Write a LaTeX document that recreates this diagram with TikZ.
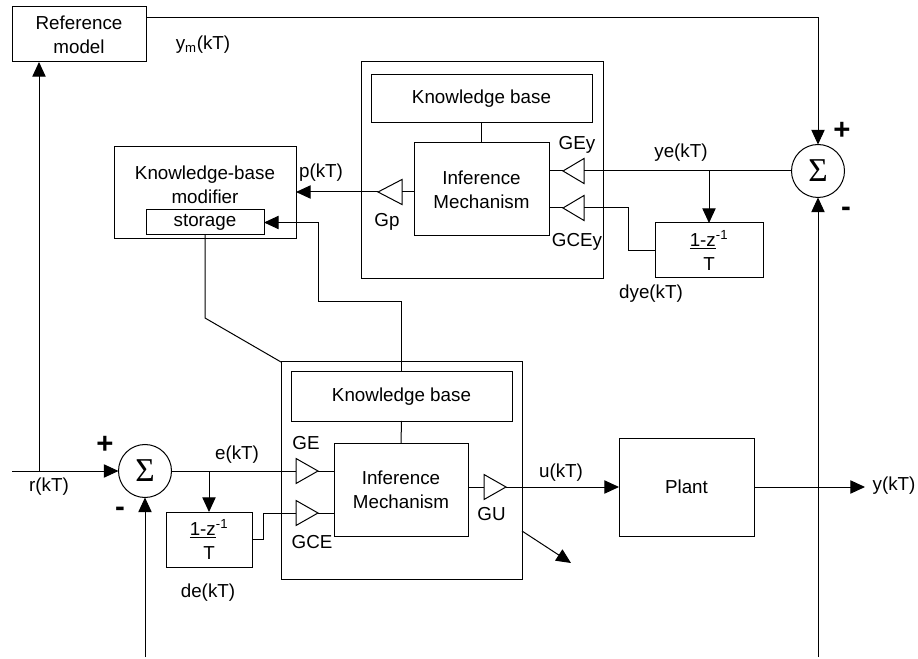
\documentclass[tikz,border=0pt]{standalone}
\usepackage{fontspec}
\setmainfont{Liberation Sans}
\newfontfamily\sigmafont{Liberation Serif}
\usetikzlibrary{arrows.meta}

\tikzset{every picture/.style={line width=0.75pt}}
\tikzset{
  block/.style={draw, rectangle, inner sep=0pt, outer sep=0pt, align=center},
  sumnode/.style={draw, circle, inner sep=0pt, outer sep=0pt, minimum size=39.75pt,
    font=\fontsize{25}{25}\selectfont\sigmafont},
  arr/.style={-{Triangle[length=11pt,width=10pt]}},
  sign/.style={font=\fontsize{22}{22}\selectfont\bfseries, inner sep=0pt},
  lbl/.style={inner sep=0pt},
}

\begin{document}
\begin{tikzpicture}[x=0.75pt,y=0.75pt,yscale=-1,xscale=1,font=\fontsize{14.1}{18}\selectfont]
\path[use as bounding box] (0,0) rectangle (918,659);

% Blocks
\node[block, minimum width=100.5pt, minimum height=41.25pt] (refmodel) at (79,34.5) {Reference\\model};
\node[block, minimum width=136.5pt, minimum height=69pt] (kbmod) at (205,193) {};
\node[lbl, align=center] (kbmodtxt) at (205,185) {Knowledge-base\\modifier};
\node[block, minimum width=88.5pt, minimum height=18.75pt] (storage) at (205,222.5) {storage};

% top fuzzy controller
\node[block, minimum width=181.5pt, minimum height=162.75pt] (fuzzy1) at (482,170.5) {};
\node[block, minimum width=165.75pt, minimum height=36pt] (kb1) at (481.5,99) {Knowledge base};
\node[block, minimum width=101.25pt, minimum height=69.75pt] (inf1) at (481.5,189.5) {Inference\\Mechanism};
\node[block, minimum width=81pt, minimum height=41.25pt] (diff2) at (709,250.5) {\underline{1-z}\textsuperscript{-1}\\T};
\node[sumnode] (sum2) at (818,171) {Σ};

% bottom fuzzy controller
\node[block, minimum width=180.75pt, minimum height=162.75pt] (fuzzy2) at (401.5,470.5) {};
\node[block, minimum width=165.75pt, minimum height=36.75pt] (kb2) at (401.5,396.5) {Knowledge base};
\node[block, minimum width=100.5pt, minimum height=69.75pt] (inf2) at (401,489.5) {Inference\\Mechanism};
\node[block, minimum width=64.5pt, minimum height=41.25pt] (diff1) at (209,539.5) {\underline{1-z}\textsuperscript{-1}\\T};
\node[sumnode] (sum1) at (145,471) {Σ};
\node[block, minimum width=101.25pt, minimum height=73.5pt] (plant) at (686.5,487) {Plant};

% gains
\coordinate (gey) at (584,171);   \coordinate (geytip) at (563,171);
\coordinate (gcey) at (584,208);  \coordinate (gceytip) at (563,208);
\coordinate (gp) at (402,192);    \coordinate (gptip) at (378,192);
\coordinate (ge) at (296,471);    \coordinate (getip) at (318,471);
\coordinate (gce) at (296,513);   \coordinate (gcetip) at (318,513);
\coordinate (gu) at (484,487);    \coordinate (gutip) at (506,487);
\draw (gey) ++(0,-12.5) -- (geytip) -- ++(21,12.5) -- cycle;
\draw (gcey) ++(0,-12.5) -- (gceytip) -- ++(21,12.5) -- cycle;
\draw (gp) ++(0,-12.5) -- (gptip) -- ++(24,12.5) -- cycle;
\draw (ge) ++(0,-12.5) -- (getip) -- ++(-22,12.5) -- cycle;
\draw (gce) ++(0,-12.5) -- (gcetip) -- ++(-22,12.5) -- cycle;
\draw (gu) ++(0,-12.5) -- (gutip) -- ++(-22,12.5) -- cycle;

% Connectors
\coordinate (rin) at (12,471);
\coordinate (rbranch) at (39,471);
\coordinate (ymout) at (146,18);
\coordinate (sum1in) at (145,657);
\coordinate (sum2in) at (818,657);
\coordinate (yebranch) at (709,171);
\coordinate (ebranch) at (209,471);
\coordinate (yout) at (865,487);
\coordinate (adapt) at (571,563);

\draw[arr] (rin) -- (sum1.west);
\draw[arr] (rbranch) -- (refmodel.south -| rbranch);
\draw[arr] (ymout) -| (sum2.north);
\draw[arr] (sum2in) -- (sum2.south);
\draw[arr] (sum1in) -- (sum1.south);

\draw (kb1.south) -- (inf1.north);
\draw (sum2.west) -- (gey);
\draw[arr] (yebranch) -- (diff2.north);
\draw (diff2.west) -| (628,208) -- (gcey);
\draw (inf1.east |- geytip) -- (geytip);
\draw (inf1.east |- gceytip) -- (gceytip);
\draw (inf1.west |- gp) -- (gp);
\draw[arr] (gptip) -- (kbmod.east |- gptip);

\draw[arr] (kb2.north) -- (401.5,302) -| (318,222.5) -- (storage.east);
\draw (storage.south) -- (205,318) -- (fuzzy2.north west);

\draw (kb2.south) -- (inf2.north);
\draw (sum1.east) -- (ge);
\draw[arr] (ebranch) -- (diff1.north);
\draw (diff1.east) -| (263,513) -- (gce);
\draw (getip) -- (inf2.west |- getip);
\draw (gcetip) -- (inf2.west |- gcetip);
\draw (inf2.east |- gu) -- (gu);
\draw[arr] (gutip) -- (plant.west);
\draw[arr] (plant.east) -- (yout);
\draw[arr] (fuzzy2.east |- 0,531) -- (adapt);

% Text Nodes
\node[lbl] (ymlbl) at (203,45) {y\textsubscript{m}(kT)};
\node[lbl] (plbl) at (321,173) {p(kT)};
\node[lbl] (geylbl) at (577,145) {GEy};
\node[lbl] (gceylbl) at (577,242) {GCEy};
\node[lbl] (gplbl) at (387,222) {Gp};
\node[lbl] (yelbl) at (681,153) {ye(kT)};
\node[lbl] (dyelbl) at (651,294) {dye(kT)};
\node[lbl] (elbl) at (237,455) {e(kT)};
\node[lbl] (delbl) at (208,593) {de(kT)};
\node[lbl] (rlbl) at (49,487) {r(kT)};
\node[lbl] (gelbl) at (306,443) {GE};
\node[lbl] (gcelbl) at (312,542) {GCE};
\node[lbl] (gulbl) at (491.5,514) {GU};
\node[lbl] (ulbl) at (561,473) {u(kT)};
\node[lbl] (ylbl) at (894,486) {y(kT)};
\node[sign] (plus1) at (105,445) {+};
\node[sign] (minus1) at (120,512) {-};
\node[sign] (plus2) at (842,131) {+};
\node[sign] (minus2) at (846,212) {-};

\end{tikzpicture}
\end{document}
